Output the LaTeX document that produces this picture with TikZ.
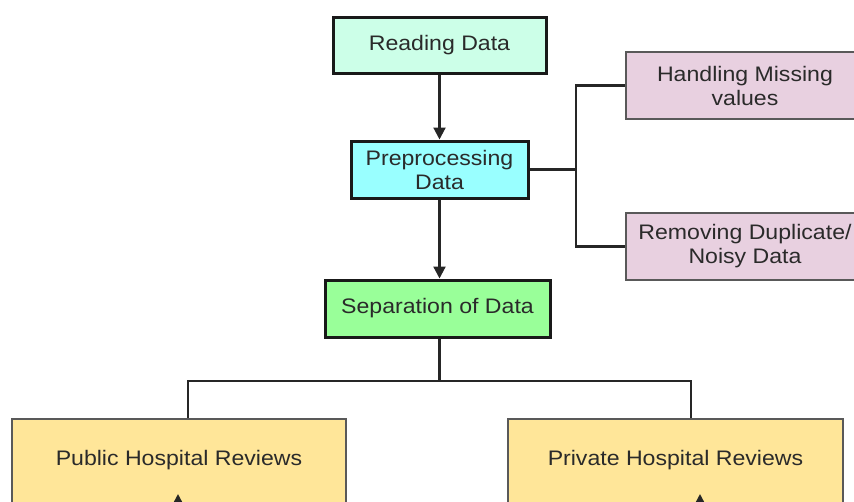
\documentclass[tikz,border=0pt]{standalone}
\usepackage{fontspec}
\setmainfont{Liberation Sans}[FakeStretch=1.1]
\usetikzlibrary{arrows.meta}
\definecolor{mint}{HTML}{CCFFE8}
\definecolor{cyanbox}{HTML}{99FFFF}
\definecolor{greenbox}{HTML}{99FF99}
\definecolor{pinkbox}{HTML}{E8D0E0}
\definecolor{yellowbox}{HTML}{FFE699}
\definecolor{txt}{HTML}{2A2A2A}
\tikzset{
  mainbox/.style={draw=black!90, line width=3pt, text=txt, align=center, inner sep=0pt},
  sidebox/.style={draw=black!65, line width=2pt, text=txt, align=center, inner sep=0pt},
  link/.style={draw=black!85, line width=2.2pt},
  arr/.style={link, -{Triangle[length=12pt,width=12pt]}},
}
\begin{document}
\begin{tikzpicture}[x=1pt,y=-1pt, font=\fontsize{21}{24}\selectfont]
\useasboundingbox (0,0) rectangle (854,501);
\clip (0,0) rectangle (854,501);
% top chain
\node[mainbox, fill=mint, minimum width=213pt, minimum height=56pt] (read) at (439.5,45) {Reading Data};
\node[mainbox, fill=cyanbox, minimum width=177pt, minimum height=57pt] (pre) at (439.5,169.5) {Preprocessing\\Data};
\node[mainbox, fill=greenbox, minimum width=225pt, minimum height=57pt] (sep) at (437.5,308.5) {Separation of Data};
% side boxes
\node[sidebox, fill=pinkbox, minimum width=240pt, minimum height=67pt] (miss) at (746,85.5) {};
\node[text=txt, align=center] (misst) at (745,85.5) {Handling Missing\\values};
\node[sidebox, fill=pinkbox, minimum width=240pt, minimum height=67pt] (dup) at (746,246.5) {};
\node[text=txt, align=center] (dupt) at (745,246.5) {Removing Duplicate/\\Noisy Data};
% bottom boxes
\node[sidebox, fill=yellowbox, minimum width=334pt, minimum height=90pt] (pub) at (179,464) {};
\node[text=txt] (pubt) at (179,460) {Public Hospital Reviews};
\node[sidebox, fill=yellowbox, minimum width=335pt, minimum height=90pt] (priv) at (675.5,464) {};
\node[text=txt] (privt) at (675.5,460) {Private Hospital Reviews};
% connectors
\draw[arr] (read.south) -- (pre.north);
\draw[arr] (pre.south) -- (pre.south |- sep.north);
\coordinate (jr) at (576,169.5);
\draw[link] (pre.east) -- (jr);
\draw[link] (miss.west) -| (jr) |- (dup.west);
\coordinate (jb) at (439.5,381);
\draw[link] (pre.south |- sep.south) -- (jb);
\draw[link] (jb) -| (pub.north -| 188,0);
\draw[link] (jb) -| (priv.north -| 691,0);
\coordinate (bl) at (178,530);
\coordinate (br) at (700,530);
\draw[arr] (bl) -- (178,494);
\draw[arr] (br) -- (700,494);
\end{tikzpicture}
\end{document}
